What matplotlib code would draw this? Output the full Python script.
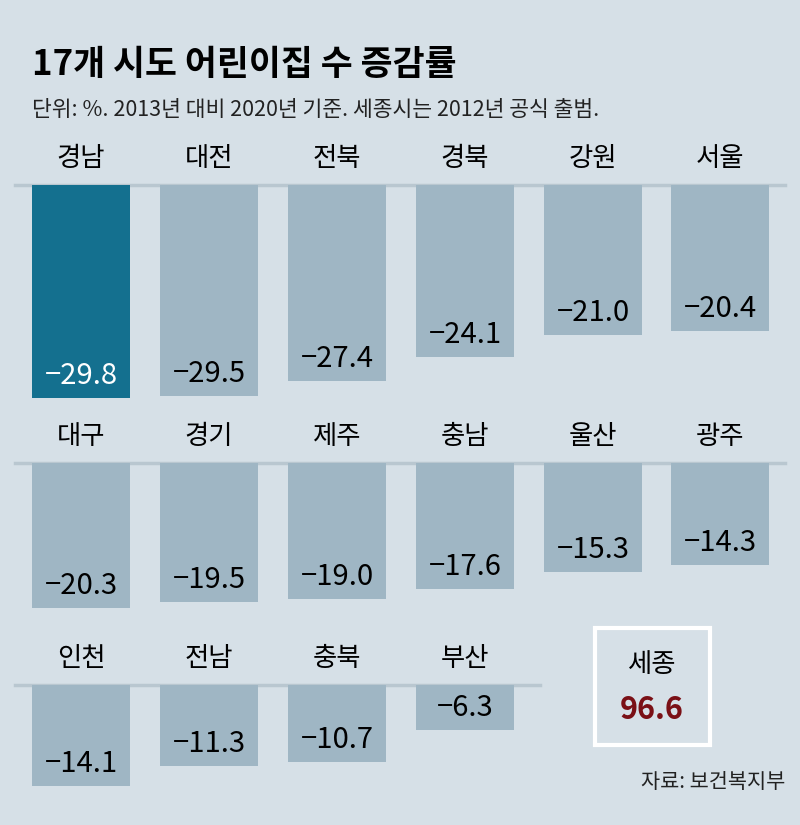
import matplotlib.pyplot as plt
from matplotlib import font_manager as fm
from matplotlib.patches import Rectangle

# Find a Korean-capable font file and register it
family = 'DejaVu Sans'
cands = [f for f in fm.findSystemFonts() if 'CJK' in f or 'cjk' in f.lower()]
cands.sort(key=lambda f: (0 if 'KR' in f else 1, f))
for f in cands:
    try:
        fm.fontManager.addfont(f)
    except Exception:
        pass
for name in ['Noto Sans CJK KR', 'Noto Sans CJK SC', 'Noto Sans CJK JP', 'Noto Sans CJK TC']:
    if any(e.name == name for e in fm.fontManager.ttflist):
        family = name
        break
else:
    if cands:
        family = fm.FontProperties(fname=cands[0]).get_name()
plt.rcParams['font.family'] = [family, 'DejaVu Sans']

# Data
row1_names = ['경남', '대전', '전북', '경북', '강원', '서울']
row1_values = [-29.8, -29.5, -27.4, -24.1, -21.0, -20.4]
row2_names = ['대구', '경기', '제주', '충남', '울산', '광주']
row2_values = [-20.3, -19.5, -19.0, -17.6, -15.3, -14.3]
row3_names = ['인천', '전남', '충북', '부산']
row3_values = [-14.1, -11.3, -10.7, -6.3]
sejong_name = '세종'
sejong_value = 96.6

bg = '#d6e0e7'
bar_color = '#9fb6c4'
hi_color = '#14708f'

fig = plt.figure(figsize=(8, 8.25), dpi=100)
fig.patch.set_facecolor(bg)
ax = fig.add_axes([0, 0, 1, 1])
ax.set_xlim(0, 800)
ax.set_ylim(825, 0)
ax.axis('off')

ax.text(32, 65, '17개 시도 어린이집 수 증감률', fontsize=25, fontweight='bold', va='center')
ax.text(32, 110, '단위: %. 2013년 대비 2020년 기준. 세종시는 2012년 공식 출범.',
        fontsize=15.5, va='center', color='#222222')

scale = 7.15
centers = [81, 209, 337, 465, 593, 720]
rows = [(row1_names, row1_values, 185, 785),
        (row2_names, row2_values, 463, 785),
        (row3_names, row3_values, 685, 540)]

for r, (names, values, base, line_end) in enumerate(rows):
    xs = centers[:len(values)]
    colors = [hi_color if (r == 0 and i == 0) else bar_color for i in range(len(values))]
    ax.bar(xs, [-v * scale for v in values], width=98, bottom=base, color=colors)
    ax.plot([15, line_end], [base, base], color='#b9c7d0', lw=2.5, zorder=0)
    for i, (x, n, v) in enumerate(zip(xs, names, values)):
        ax.text(x, base - 26, n, fontsize=19, ha='center', va='center')
        tc = 'white' if (r == 0 and i == 0) else 'black'
        ax.text(x, base - v * scale - 22, f'\u2212{abs(v):.1f}', fontsize=21,
                ha='center', va='center', color=tc)

ax.add_patch(Rectangle((595, 628), 115, 117, facecolor='none', edgecolor='white', lw=3))
ax.text(652, 665, sejong_name, fontsize=19, ha='center', va='center')
ax.text(652, 710, f'{sejong_value:.1f}', fontsize=22, ha='center', va='center',
        color='#7a1016', fontweight='bold')

ax.text(785, 782, '자료: 보건복지부', fontsize=15, ha='right', va='center', color='#222222')

fig.savefig('out.png', dpi=100, facecolor=bg)
